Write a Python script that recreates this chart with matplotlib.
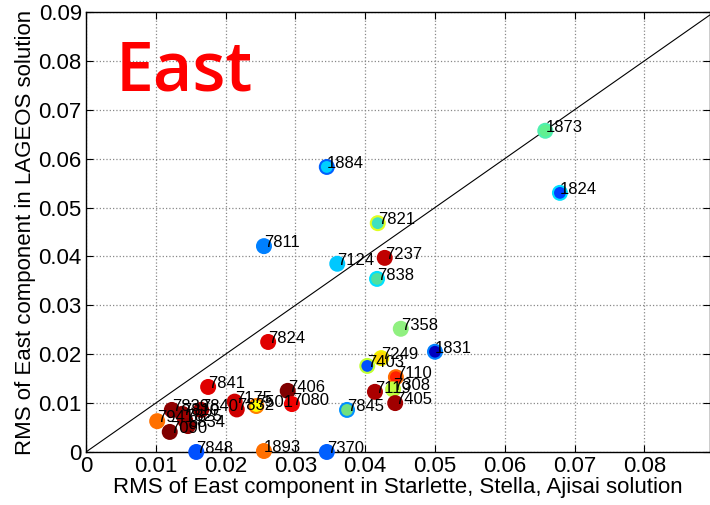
import numpy as np
import matplotlib
matplotlib.use('Agg')
from matplotlib import pyplot as plt

stations = ['1873', '1824', '1884', '7821', '7811', '7124', '7237', '7838',
            '7358', '1831', '7824', '7249', '7403', '7110', '7119', '7308',
            '7405', '7845', '7406', '7080', '7175', '7832', '7501', '7841',
            '7840', '7839', '7810', '7825', '8834', '7090', '7941',
            '1893', '7848', '7370']
rms_ssa = [0.0658, 0.0679, 0.0345, 0.0418, 0.0255, 0.0360, 0.0428, 0.0417,
           0.0451, 0.0500, 0.0261, 0.0423, 0.0403, 0.0444, 0.0414, 0.0440,
           0.0443, 0.0374, 0.0289, 0.0295, 0.0213, 0.0216, 0.0244, 0.0175,
           0.0165, 0.0123, 0.0138, 0.0142, 0.0146, 0.0120, 0.0102,
           0.0255, 0.0158, 0.0345]
rms_lageos = [0.0657, 0.0530, 0.0583, 0.0468, 0.0421, 0.0385, 0.0397, 0.0354,
              0.0252, 0.0205, 0.0225, 0.0192, 0.0176, 0.0153, 0.0123, 0.0128,
              0.0100, 0.0086, 0.0125, 0.0098, 0.0103, 0.0087, 0.0094, 0.0133,
              0.0086, 0.0086, 0.0078, 0.0065, 0.0053, 0.0041, 0.0063,
              0.0002, 0.0000, 0.0000]
face_colors = ['#60f090', '#0040ff', '#00d0ff', '#40e0c0', '#0080ff', '#00c8ff',
               '#c00000', '#50e0a0', '#90f080', '#0000c0', '#e00000', '#ffd800',
               '#0050ff', '#ff2000', '#aa0000', '#c0ff40', '#a00000', '#70e080',
               '#800000', '#f00000', '#d00000', '#d00000', '#ffff00', '#e00000',
               '#a00000', '#900000', '#8a0000', '#a00000', '#900000', '#800000',
               '#ff7000', '#ff7000', '#0050ff', '#0060ff']
edge_colors = ['#50f0b0', '#00e0ff', '#0060ff', '#e0ff20', '#0080ff', '#00c8ff',
               '#c00000', '#00e0ff', '#90f080', '#0080ff', '#e00000', '#f0f000',
               '#c0ff30', '#ff6a00', '#aa0000', '#c0ff40', '#a00000', '#0090ff',
               '#800000', '#f00000', '#d00000', '#d00000', '#ff8000', '#e00000',
               '#a00000', '#900000', '#8a0000', '#a00000', '#900000', '#800000',
               '#ff7000', '#ff7000', '#0050ff', '#0060ff']

plt.rcParams['font.family'] = ['Liberation Sans', 'DejaVu Sans']

fig = plt.figure(figsize=(7.10, 5.05), dpi=100)
ax = fig.add_axes([0.1211, 0.105, 0.8789, 0.8713])

ax.plot([0, 0.09], [0, 0.09], color='black', linewidth=0.8, zorder=2)
ax.scatter(rms_ssa, rms_lageos, s=100, c=face_colors, edgecolors=edge_colors,
           linewidths=1.5, zorder=3, clip_on=False)
for name, x, y in zip(stations, rms_ssa, rms_lageos):
    ax.annotate(name, (x, y), xytext=(0, 2.5), textcoords='offset points',
                ha='left', va='center', fontsize=12, zorder=4)

ax.text(0.0042, 0.0775, 'East', color='red', fontsize=49, fontweight='semibold',
        family='Open Sans', ha='left', va='center')

ax.set_xlim(0, 0.0894)
ax.set_ylim(0, 0.09)
ax.set_xticks(np.arange(0, 0.081, 0.01))
ax.set_yticks(np.arange(0, 0.091, 0.01))
ax.set_xticklabels(['0', '0.01', '0.02', '0.03', '0.04', '0.05', '0.06', '0.07', '0.08'])
ax.set_yticklabels(['0', '0.01', '0.02', '0.03', '0.04', '0.05', '0.06', '0.07', '0.08', '0.09'])
ax.tick_params(direction='in', top=True, right=True, labelsize=16, length=5, pad=3)
ax.grid(True, linestyle=':', color='#888888', linewidth=0.9)
ax.set_axisbelow(True)
ax.set_xlabel('RMS of East component in Starlette, Stella, Ajisai solution', fontsize=16, labelpad=0)
ax.set_ylabel('RMS of East component in LAGEOS solution', fontsize=16, labelpad=2)
for sp in ax.spines.values():
    sp.set_linewidth(1.0)

fig.savefig('out.png', dpi=100)
